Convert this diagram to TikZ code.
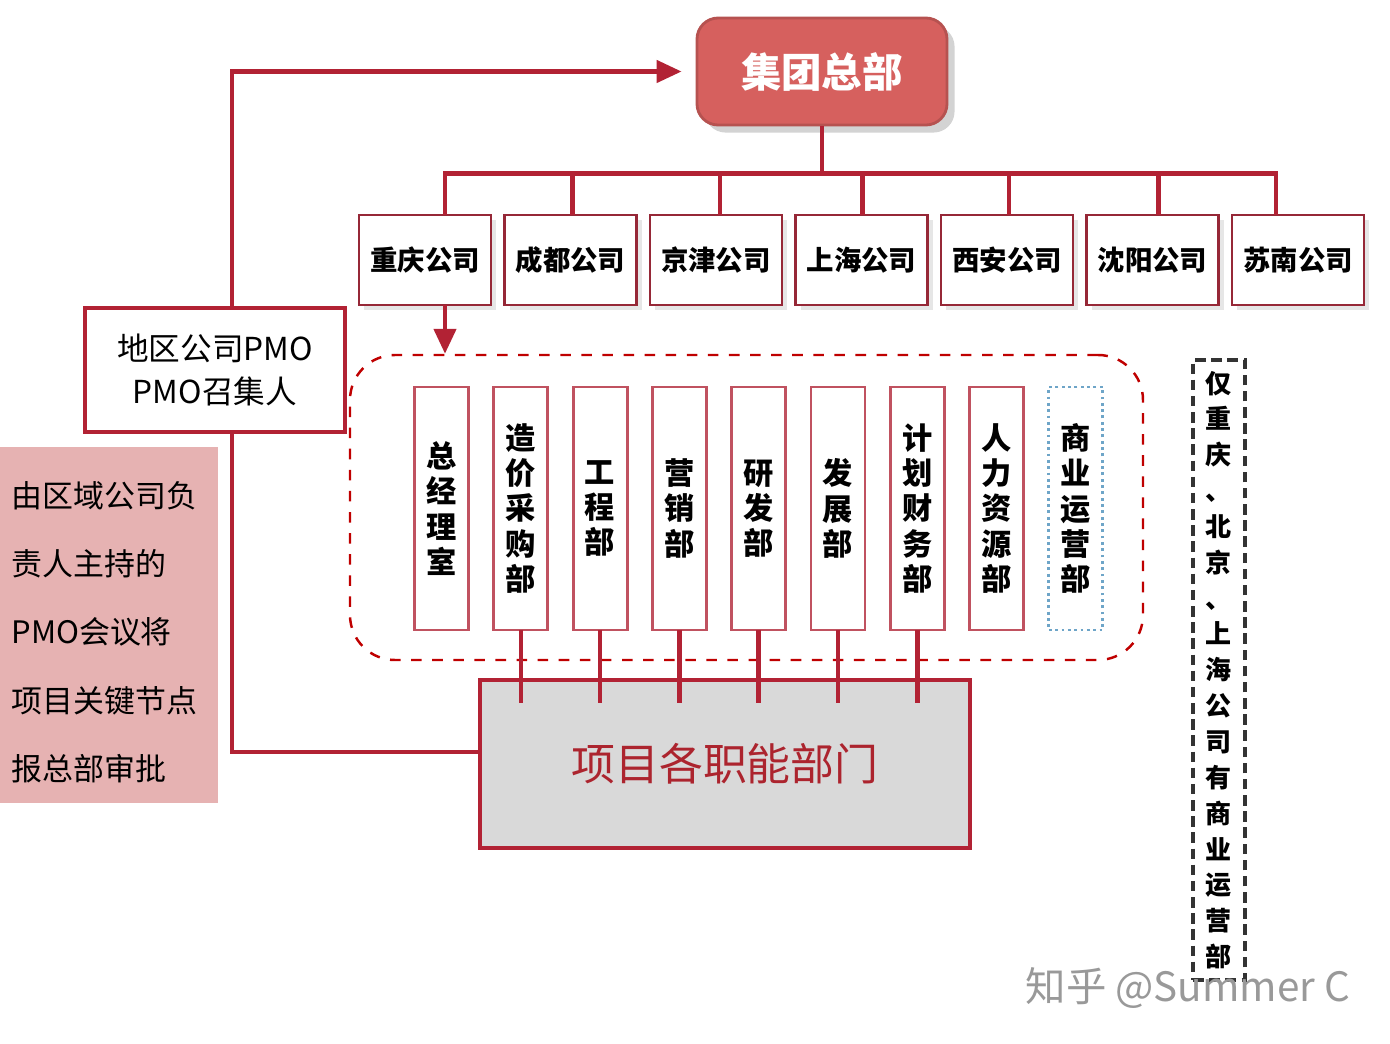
\documentclass[tikz,border=0pt]{standalone}
\usepackage{fontspec}
\usetikzlibrary{arrows.meta,positioning,shadows}
\newfontfamily\cjk{Noto Sans CJK SC}
\definecolor{hqred}{RGB}{214,96,94}
\definecolor{linered}{RGB}{178,34,52}
\definecolor{boxred}{RGB}{150,40,55}
\definecolor{deptred}{RGB}{192,82,96}
\definecolor{pinkfill}{RGB}{230,178,178}
\definecolor{projgray}{RGB}{217,217,217}
\definecolor{projtext}{RGB}{172,36,46}
\definecolor{dotblue}{RGB}{110,165,200}
\tikzstyle{hq} = [rectangle, rounded corners=6pt, draw=hqred!85!black, thick, fill=hqred, minimum width=2.5cm, minimum height=1.07cm, text=white, font=\cjk\bfseries\fontsize{11.5}{12}\selectfont, drop shadow={opacity=0.35}]
\tikzstyle{company} = [rectangle, draw=boxred, line width=0.8pt, fill=white, minimum width=1.32cm, minimum height=0.9cm, inner xsep=1.5pt, outer sep=0pt, font=\cjk\bfseries\fontsize{7.8}{9}\selectfont, drop shadow={opacity=0.2, shadow xshift=0.5mm, shadow yshift=-0.5mm}]
\tikzstyle{dept} = [rectangle, draw=deptred, line width=0.8pt, fill=white, minimum width=0.54cm, minimum height=2.43cm, align=center, inner sep=1pt, outer sep=0pt, font=\cjk\bfseries\fontsize{8.6}{10}\selectfont]
\tikzstyle{container} = [rectangle, rounded corners=0.45cm, draw=red!75!black, dashed, line width=0.7pt]
\tikzstyle{pmobox} = [rectangle, draw=linered, line width=1.4pt, fill=white, minimum width=2.6cm, minimum height=1.24cm, align=center, font=\cjk\fontsize{9}{12.2}\selectfont]
\tikzstyle{note} = [rectangle, fill=pinkfill, minimum width=2.18cm, minimum height=3.56cm, text width=1.95cm, align=left, font=\cjk\fontsize{8.8}{19.4}\selectfont]
\tikzstyle{proj} = [rectangle, draw=linered, line width=1.4pt, fill=projgray, minimum width=4.9cm, minimum height=1.68cm, text=projtext, font=\cjk\fontsize{12.5}{14}\selectfont]
\tikzstyle{link} = [draw=linered, line width=1.3pt]
\tikzstyle{arr} = [link, -{Triangle[length=2.5mm,width=2.2mm]}]

\begin{document}
\begin{tikzpicture}[node distance=0.135cm]
\useasboundingbox (0,0) rectangle (13.9,10.44);
% headquarters and regional companies
\node[hq] (hq) at (8.22,9.725) {集团总部};
\node[company] (cq) at (4.25,7.84) {重庆公司};
\node[company, right=of cq] (cd) {成都公司};
\node[company, right=of cd] (jj) {京津公司};
\node[company, right=of jj] (sh) {上海公司};
\node[company, right=of sh] (xa) {西安公司};
\node[company, right=of xa] (sy) {沈阳公司};
\node[company, right=of sy] (sn) {苏南公司};

\draw[link] (hq.south) -- ++(0,-0.47) coordinate (bus);
\foreach \c/\dx in {cq/0.2, cd/0.02, jj/0.04, sh/0.01, xa/0.02, sy/0.06, sn/-0.22}
  \draw[link] ([xshift=\dx cm]\c.north) |- (bus);

% departments
\node[container, minimum width=7.93cm, minimum height=3.05cm] (grp) at (7.465,5.365) {};
\node[dept] (d1) at (4.415,5.355) {总\\经\\理\\室};
\node[dept, right=0.253cm of d1] (d2) {造\\价\\采\\购\\部};
\node[dept, right=0.253cm of d2] (d3) {工\\程\\部};
\node[dept, right=0.253cm of d3] (d4) {营\\销\\部};
\node[dept, right=0.253cm of d4] (d5) {研\\发\\部};
\node[dept, right=0.253cm of d5] (d6) {发\\展\\部};
\node[dept, right=0.253cm of d6] (d7) {计\\划\\财\\务\\部};
\node[dept, right=0.253cm of d7] (d8) {人\\力\\资\\源\\部};
\node[dept, right=0.253cm of d8, draw=dotblue, densely dotted] (d9) {商\\业\\运\\营\\部};
\draw[arr] ([xshift=2mm]cq.south) -- ([xshift=2mm]cq.south |- grp.north);

% project functions
\node[proj] (proj) at (7.25,2.80) {项目各职能部门};
\path (proj.north) ++(0,-0.25) coordinate (projin);
\foreach \d in {d2,d3,d4,d5,d6,d7}
  \draw[link] (\d.south) -- (\d.south |- projin);

% regional PMO
\node[pmobox] (pmo) at (2.15,6.74) {地区公司PMO\\PMO召集人};
\node[note] (note) at (1.09,4.19) {\rule{0pt}{11.5pt}由区域公司负\\责人主持的\\PMO会议将\\项目关键节点\\报总部审批};
\draw[arr, shorten >=1.4mm] ([xshift=1.7mm]pmo.north) |- (hq.west);
\draw[link] ([xshift=1.7mm]pmo.south) |- ([yshift=1.2mm]proj.west);

% remark
\node[rectangle, draw=black!80, dashed, line width=1pt, dash pattern=on 3pt off 1.6pt, minimum width=0.52cm, minimum height=6.2cm, align=center, inner sep=1pt, font=\cjk\bfseries\fontsize{7.4}{10.2}\selectfont] (remark) at (12.19,3.74) {仅\\重\\庆\\、\\北\\京\\、\\上\\海\\公\\司\\有\\商\\业\\运\\营\\部};
\node[text=black!40, font=\cjk\fontsize{11.5}{12}\selectfont] (mark) at (11.88,0.56) {知乎 @Summer C};
\end{tikzpicture}
\end{document}
